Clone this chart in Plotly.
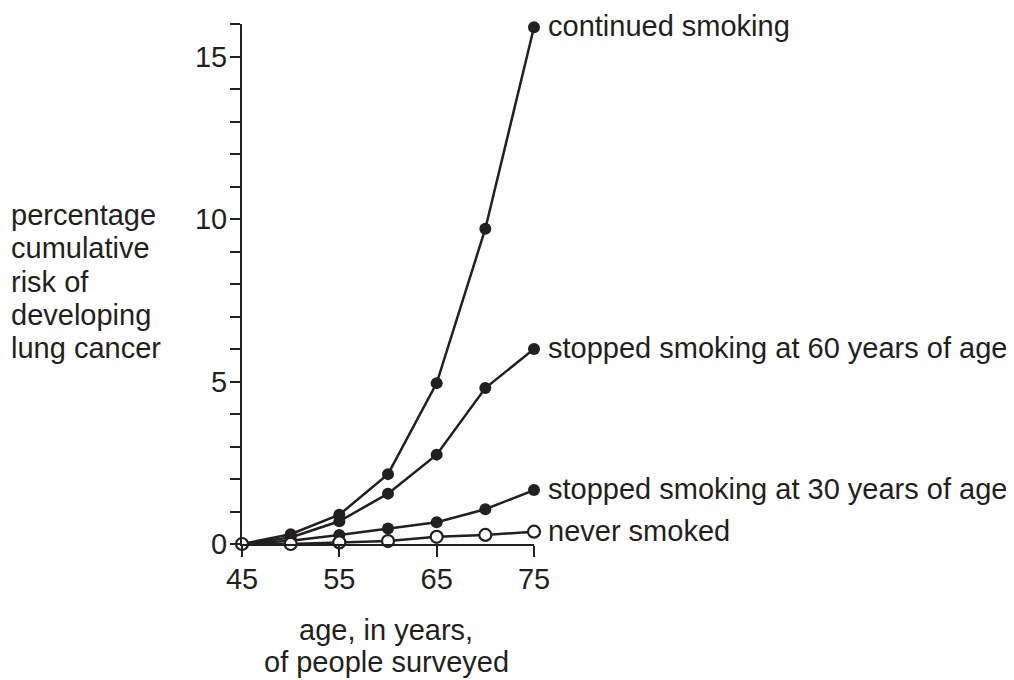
import plotly.graph_objects as go

age = [45, 50, 55, 60, 65, 70, 75]
continued = [0, 0.3, 0.9, 2.15, 4.95, 9.7, 15.9]
stopped60 = [0, 0.2, 0.7, 1.55, 2.75, 4.8, 6.0]
stopped30 = [0, 0.1, 0.28, 0.48, 0.67, 1.07, 1.66]
never = [0, 0.0, 0.05, 0.09, 0.22, 0.28, 0.38]

series_names = ["continued smoking", "stopped smoking at 60 years of age",
                "stopped smoking at 30 years of age", "never smoked"]
series_vals = [continued, stopped60, stopped30, never]
series_open = [False, False, False, True]

y_title_lines = ["percentage", "cumulative", "risk of", "developing", "lung cancer"]
x_title_lines = ["age, in years,", "of people surveyed"]
x_ticks = [45, 55, 65, 75]
y_ticks = list(range(0, 17))
y_ticktext = [str(v) if v % 5 == 0 else "" for v in y_ticks]

INK = "#231f20"
FONT = "Liberation Sans, Arial, sans-serif"
FS = 29

OFF = 8  # default page body margin
W, H = 1014 - OFF, 680 - OFF
L, T = 242 - OFF, 24 - OFF
PW, PH = 292, 520
R, B = W - L - PW, H - T - PH

def px_x(p):
    return (p - OFF - L) / PW

def px_y(p):
    return (T + PH - (p - OFF)) / PH

fig = go.Figure()
for name, vals, is_open in zip(series_names, series_vals, series_open):
    fig.add_trace(go.Scatter(
        x=age, y=vals, mode="lines+markers", name=name,
        line=dict(color=INK, width=2.5),
        marker=dict(size=12, color="white" if is_open else INK,
                    line=dict(color=INK, width=2.2 if is_open else 0)),
        cliponaxis=False, showlegend=False,
    ))
    fig.add_annotation(x=age[-1], y=vals[-1], text=name, showarrow=False,
                       xanchor="left", yanchor="middle", xshift=12, yshift=1,
                       font=dict(family=FONT, size=FS, color=INK))

# y title lines
centers = [215, 248, 282, 315, 348]
for line, c in zip(y_title_lines, centers):
    fig.add_annotation(x=px_x(9), y=px_y(c), xref="paper", yref="paper",
                       text=line, showarrow=False, xanchor="left", yanchor="middle",
                       font=dict(family=FONT, size=FS, color=INK))

for line, c in zip(x_title_lines, [630, 662]):
    fig.add_annotation(x=px_x(386), y=px_y(c), xref="paper", yref="paper",
                       text=line, showarrow=False, xanchor="center", yanchor="middle",
                       font=dict(family=FONT, size=FS, color=INK))

fig.update_xaxes(range=[45, 75], tickvals=x_ticks, ticks="outside", ticklen=11,
                 tickwidth=2, tickcolor=INK, showline=True, linecolor=INK, linewidth=2,
                 showgrid=False, zeroline=False, ticklabelstandoff=-3,
                 tickfont=dict(family=FONT, size=FS, color=INK))
fig.update_yaxes(range=[0, 16], tickvals=y_ticks, ticktext=y_ticktext, ticks="outside",
                 ticklen=10, tickwidth=2, tickcolor=INK, showline=True, linecolor=INK,
                 linewidth=2, showgrid=False, zeroline=False, ticklabelstandoff=-3,
                 tickfont=dict(family=FONT, size=FS, color=INK))

fig.update_layout(width=W, height=H, margin=dict(l=L, r=R, t=T, b=B),
                  plot_bgcolor="white", paper_bgcolor="white",
                  font=dict(family=FONT, size=FS, color=INK))

fig.write_html("out.html")
